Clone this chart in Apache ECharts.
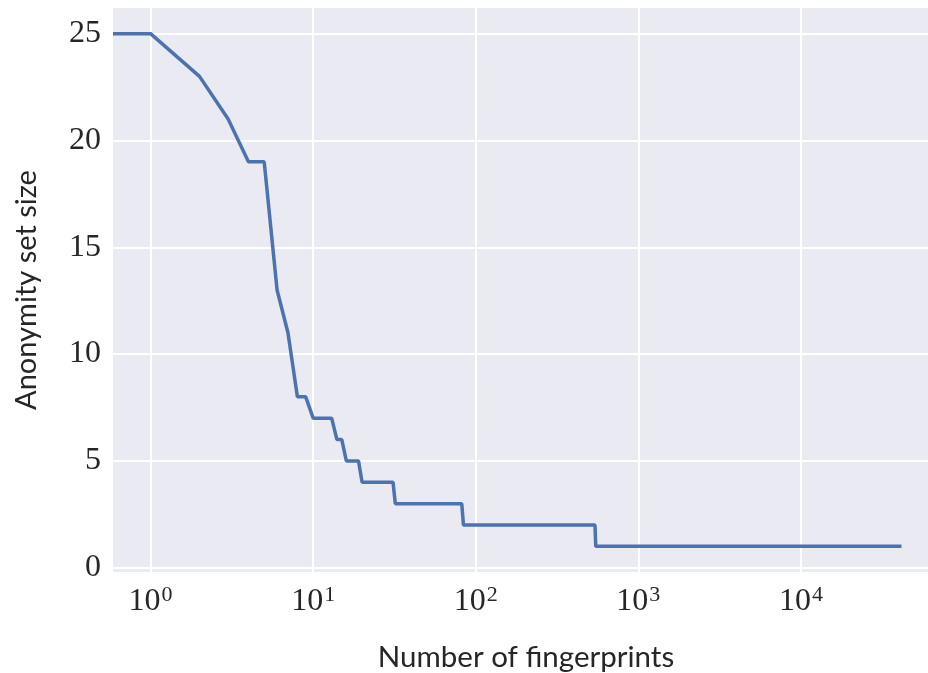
<!DOCTYPE html>
<html>
<head>
<meta charset="utf-8">
<script src="https://cdn.jsdelivr.net/npm/echarts@6/dist/echarts.min.js"></script>
<style>
  html, body { margin: 0; padding: 0; background: #fff; }
  #chart { width: 928px; height: 673px; }
</style>
</head>
<body>
<div id="chart"></div>
<script>
// x range of the axes (log scale), y range with matplotlib-style margins
const xMin = 0.5877;
const xMax = 70600;
const yMin = -0.2;
const yMax = 26.2;

// number of fingerprints vs anonymity set size
const fingerprints = [xMin, 1, 2, 3, 4, 5, 6, 7, 8, 9, 10, 13, 14, 15, 16, 19, 20, 31, 32, 82, 84, 541, 547, 41500];
const setSize = [25, 25, 23, 21, 19, 19, 13, 11, 8, 8, 7, 7, 6, 6, 5, 5, 4, 4, 3, 3, 2, 2, 1, 1];

const yTicks = [0, 5, 10, 15, 20, 25];

var myChart = echarts.init(document.getElementById("chart"));
var option = {
  animation: false,
  backgroundColor: "#fff",
  grid: {
    left: 113,
    top: 8,
    width: 826,
    height: 564,
    outerBoundsMode: "none",
    show: true,
    backgroundColor: "#eaeaf2",
    borderWidth: 0,
  },
  xAxis: {
    type: "log",
    logBase: 10,
    min: xMin,
    max: xMax,
    name: "Number of fingerprints",
    nameLocation: "middle",
    nameGap: 70,
    nameTextStyle: {
      fontFamily: "Lato",
      fontSize: 29.5,
      color: "#262626",
    },
    axisLine: { show: false },
    axisTick: { show: false },
    axisLabel: {
      margin: 12,
      showMinLabel: false,
      showMaxLabel: false,
      formatter: (v) => {
        const e = Math.log10(v);
        if (Math.abs(e - Math.round(e)) > 1e-6) return "";
        return "{b|10}{s|" + Math.round(e) + "}";
      },
      rich: {
        b: { fontFamily: "Liberation Serif", fontSize: 32, color: "#262626" },
        s: { fontFamily: "Liberation Serif", fontSize: 22, color: "#262626", verticalAlign: "top", padding: [0, 0, 14, 1] },
      },
    },
    splitLine: {
      show: true,
      showMinLine: false,
      showMaxLine: false,
      lineStyle: { color: "#ffffff", width: 2 },
    },
  },
  yAxis: {
    type: "value",
    min: yMin,
    max: yMax,
    splitNumber: 5,
    name: "Anonymity set size",
    nameLocation: "middle",
    nameGap: 72,
    nameTextStyle: {
      fontFamily: "Lato",
      fontSize: 29,
      color: "#262626",
    },
    axisLine: { show: false },
    axisTick: { show: false },
    axisLabel: {
      margin: 12,
      showMinLabel: false,
      showMaxLabel: false,
      fontFamily: "Liberation Serif",
      fontSize: 32,
      color: "#262626",
      formatter: (v) => (yTicks.indexOf(v) >= 0 ? String(v) : ""),
    },
    splitLine: {
      show: true,
      showMinLine: false,
      showMaxLine: false,
      lineStyle: { color: "#ffffff", width: 2 },
    },
  },
  series: [
    {
      type: "line",
      data: fingerprints.map((x, i) => [x, setSize[i]]),
      showSymbol: false,
      clip: true,
      lineStyle: { color: "#4c72b0", width: 3.5 },
    },
  ],
};
myChart.setOption(option);
</script>
</body>
</html>
